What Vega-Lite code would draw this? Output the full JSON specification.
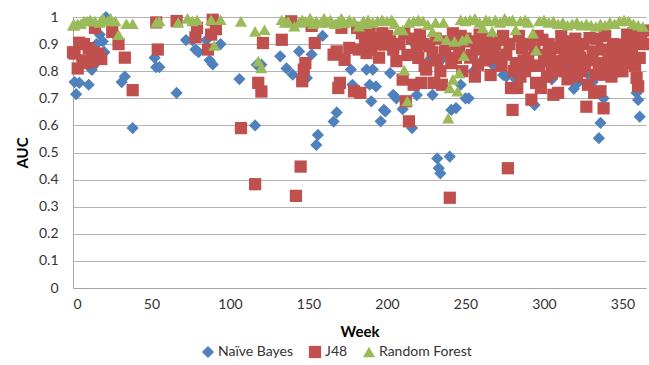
{
  "$schema": "https://vega.github.io/schema/vega-lite/v6.json",
  "width": 573,
  "height": 271,
  "autosize": {"type": "none"},
  "padding": {"left": 73, "top": 17, "right": 3, "bottom": 77},
  "background": "white",
  "config": {
    "font": "Lato",
    "view": {"stroke": null},
    "axis": {"labelColor": "#333333", "titleColor": "#000000", "labelFont": "Lato", "titleFont": "Lato"}
  },
  "data": {"values": [
    {"w":1,"a":0.76,"m":"Naïve Bayes"},{"w":2,"a":0.715,"m":"Naïve Bayes"},{"w":4,"a":0.757,"m":"Naïve Bayes"},{"w":10,"a":0.75,"m":"Naïve Bayes"},{"w":12,"a":0.805,"m":"Naïve Bayes"},{"w":13,"a":0.82,"m":"Naïve Bayes"},{"w":15,"a":0.9,"m":"Naïve Bayes"},{"w":17,"a":0.935,"m":"Naïve Bayes"},{"w":19,"a":0.91,"m":"Naïve Bayes"},{"w":20,"a":0.87,"m":"Naïve Bayes"},{"w":21,"a":1.0,"m":"Naïve Bayes"},{"w":31,"a":0.76,"m":"Naïve Bayes"},{"w":33,"a":0.78,"m":"Naïve Bayes"},{"w":38,"a":0.59,"m":"Naïve Bayes"},{"w":52,"a":0.85,"m":"Naïve Bayes"},{"w":53,"a":0.815,"m":"Naïve Bayes"},{"w":55,"a":0.815,"m":"Naïve Bayes"},{"w":66,"a":0.72,"m":"Naïve Bayes"},{"w":72,"a":0.915,"m":"Naïve Bayes"},{"w":76,"a":0.915,"m":"Naïve Bayes"},{"w":78,"a":0.88,"m":"Naïve Bayes"},{"w":80,"a":0.87,"m":"Naïve Bayes"},{"w":85,"a":0.915,"m":"Naïve Bayes"},{"w":87,"a":0.84,"m":"Naïve Bayes"},{"w":89,"a":0.825,"m":"Naïve Bayes"},{"w":94,"a":0.9,"m":"Naïve Bayes"},{"w":106,"a":0.771,"m":"Naïve Bayes"},{"w":116,"a":0.6,"m":"Naïve Bayes"},{"w":117,"a":0.824,"m":"Naïve Bayes"},{"w":120,"a":0.824,"m":"Naïve Bayes"},{"w":132,"a":0.855,"m":"Naïve Bayes"},{"w":136,"a":0.81,"m":"Naïve Bayes"},{"w":140,"a":0.787,"m":"Naïve Bayes"},{"w":144,"a":0.873,"m":"Naïve Bayes"},{"w":149,"a":0.775,"m":"Naïve Bayes"},{"w":152,"a":0.862,"m":"Naïve Bayes"},{"w":155,"a":0.528,"m":"Naïve Bayes"},{"w":156,"a":0.565,"m":"Naïve Bayes"},{"w":159,"a":0.93,"m":"Naïve Bayes"},{"w":166,"a":0.614,"m":"Naïve Bayes"},{"w":168,"a":0.648,"m":"Naïve Bayes"},{"w":177,"a":0.806,"m":"Naïve Bayes"},{"w":178,"a":0.75,"m":"Naïve Bayes"},{"w":187,"a":0.806,"m":"Naïve Bayes"},{"w":189,"a":0.75,"m":"Naïve Bayes"},{"w":190,"a":0.689,"m":"Naïve Bayes"},{"w":191,"a":0.806,"m":"Naïve Bayes"},{"w":193,"a":0.744,"m":"Naïve Bayes"},{"w":196,"a":0.615,"m":"Naïve Bayes"},{"w":198,"a":0.657,"m":"Naïve Bayes"},{"w":199,"a":0.652,"m":"Naïve Bayes"},{"w":202,"a":0.793,"m":"Naïve Bayes"},{"w":204,"a":0.713,"m":"Naïve Bayes"},{"w":206,"a":0.7,"m":"Naïve Bayes"},{"w":210,"a":0.66,"m":"Naïve Bayes"},{"w":216,"a":0.59,"m":"Naïve Bayes"},{"w":217,"a":0.903,"m":"Naïve Bayes"},{"w":218,"a":0.91,"m":"Naïve Bayes"},{"w":219,"a":0.712,"m":"Naïve Bayes"},{"w":226,"a":0.835,"m":"Naïve Bayes"},{"w":228,"a":0.837,"m":"Naïve Bayes"},{"w":229,"a":0.713,"m":"Naïve Bayes"},{"w":232,"a":0.478,"m":"Naïve Bayes"},{"w":233,"a":0.442,"m":"Naïve Bayes"},{"w":234,"a":0.423,"m":"Naïve Bayes"},{"w":235,"a":0.845,"m":"Naïve Bayes"},{"w":240,"a":0.485,"m":"Naïve Bayes"},{"w":241,"a":0.657,"m":"Naïve Bayes"},{"w":244,"a":0.664,"m":"Naïve Bayes"},{"w":247,"a":0.75,"m":"Naïve Bayes"},{"w":250,"a":0.7,"m":"Naïve Bayes"},{"w":252,"a":0.7,"m":"Naïve Bayes"},{"w":255,"a":0.8,"m":"Naïve Bayes"},{"w":262,"a":0.85,"m":"Naïve Bayes"},{"w":268,"a":0.82,"m":"Naïve Bayes"},{"w":274,"a":0.786,"m":"Naïve Bayes"},{"w":276,"a":0.78,"m":"Naïve Bayes"},{"w":282,"a":0.77,"m":"Naïve Bayes"},{"w":288,"a":0.8,"m":"Naïve Bayes"},{"w":294,"a":0.675,"m":"Naïve Bayes"},{"w":300,"a":0.77,"m":"Naïve Bayes"},{"w":305,"a":0.77,"m":"Naïve Bayes"},{"w":310,"a":0.8,"m":"Naïve Bayes"},{"w":315,"a":0.82,"m":"Naïve Bayes"},{"w":319,"a":0.735,"m":"Naïve Bayes"},{"w":322,"a":0.76,"m":"Naïve Bayes"},{"w":328,"a":0.79,"m":"Naïve Bayes"},{"w":331,"a":0.76,"m":"Naïve Bayes"},{"w":335,"a":0.553,"m":"Naïve Bayes"},{"w":336,"a":0.609,"m":"Naïve Bayes"},{"w":338,"a":0.7,"m":"Naïve Bayes"},{"w":342,"a":0.8,"m":"Naïve Bayes"},{"w":348,"a":0.85,"m":"Naïve Bayes"},{"w":352,"a":0.87,"m":"Naïve Bayes"},{"w":357,"a":0.825,"m":"Naïve Bayes"},{"w":358,"a":0.9,"m":"Naïve Bayes"},{"w":359,"a":0.72,"m":"Naïve Bayes"},{"w":360,"a":0.694,"m":"Naïve Bayes"},{"w":361,"a":0.632,"m":"Naïve Bayes"},

    {"w":0,"a":0.87,"m":"J48"},{"w":1,"a":0.865,"m":"J48"},{"w":3,"a":0.81,"m":"J48"},{"w":4,"a":0.905,"m":"J48"},{"w":6,"a":0.84,"m":"J48"},{"w":7,"a":0.9,"m":"J48"},{"w":8,"a":0.83,"m":"J48"},{"w":10,"a":0.885,"m":"J48"},{"w":12,"a":0.835,"m":"J48"},{"w":13,"a":0.87,"m":"J48"},{"w":14,"a":0.96,"m":"J48"},{"w":16,"a":0.865,"m":"J48"},{"w":18,"a":0.845,"m":"J48"},{"w":25,"a":0.945,"m":"J48"},{"w":29,"a":0.9,"m":"J48"},{"w":33,"a":0.85,"m":"J48"},{"w":38,"a":0.73,"m":"J48"},{"w":53,"a":0.98,"m":"J48"},{"w":54,"a":0.88,"m":"J48"},{"w":66,"a":0.985,"m":"J48"},{"w":78,"a":0.925,"m":"J48"},{"w":79,"a":0.96,"m":"J48"},{"w":86,"a":0.88,"m":"J48"},{"w":88,"a":0.935,"m":"J48"},{"w":89,"a":0.99,"m":"J48"},{"w":91,"a":0.955,"m":"J48"},{"w":107,"a":0.59,"m":"J48"},{"w":116,"a":0.383,"m":"J48"},{"w":118,"a":0.757,"m":"J48"},{"w":120,"a":0.725,"m":"J48"},{"w":121,"a":0.904,"m":"J48"},{"w":133,"a":0.916,"m":"J48"},{"w":139,"a":0.984,"m":"J48"},{"w":142,"a":0.34,"m":"J48"},{"w":145,"a":0.448,"m":"J48"},{"w":146,"a":0.763,"m":"J48"},{"w":147,"a":0.806,"m":"J48"},{"w":148,"a":0.83,"m":"J48"},{"w":152,"a":0.967,"m":"J48"},{"w":154,"a":0.904,"m":"J48"},{"w":166,"a":0.861,"m":"J48"},{"w":168,"a":0.873,"m":"J48"},{"w":169,"a":0.738,"m":"J48"},{"w":170,"a":0.757,"m":"J48"},{"w":171,"a":0.96,"m":"J48"},{"w":173,"a":0.842,"m":"J48"},{"w":176,"a":0.886,"m":"J48"},{"w":179,"a":0.726,"m":"J48"},{"w":181,"a":0.96,"m":"J48"},{"w":182,"a":0.88,"m":"J48"},{"w":183,"a":0.72,"m":"J48"},{"w":184,"a":0.94,"m":"J48"},{"w":186,"a":0.91,"m":"J48"},{"w":187,"a":0.867,"m":"J48"},{"w":189,"a":0.95,"m":"J48"},{"w":190,"a":0.88,"m":"J48"},{"w":192,"a":0.9,"m":"J48"},{"w":193,"a":0.922,"m":"J48"},{"w":195,"a":0.85,"m":"J48"},{"w":197,"a":0.94,"m":"J48"},{"w":198,"a":0.898,"m":"J48"},{"w":200,"a":0.93,"m":"J48"},{"w":202,"a":0.91,"m":"J48"},{"w":204,"a":0.88,"m":"J48"},{"w":206,"a":0.837,"m":"J48"},{"w":208,"a":0.9,"m":"J48"},{"w":210,"a":0.769,"m":"J48"},{"w":211,"a":0.94,"m":"J48"},{"w":212,"a":0.689,"m":"J48"},{"w":213,"a":0.86,"m":"J48"},{"w":214,"a":0.615,"m":"J48"},{"w":216,"a":0.92,"m":"J48"},{"w":217,"a":0.75,"m":"J48"},{"w":219,"a":0.88,"m":"J48"},{"w":220,"a":0.849,"m":"J48"},{"w":221,"a":0.935,"m":"J48"},{"w":222,"a":0.757,"m":"J48"},{"w":223,"a":0.9,"m":"J48"},{"w":224,"a":0.82,"m":"J48"},{"w":225,"a":0.806,"m":"J48"},{"w":227,"a":0.892,"m":"J48"},{"w":229,"a":0.87,"m":"J48"},{"w":230,"a":0.757,"m":"J48"},{"w":231,"a":0.92,"m":"J48"},{"w":232,"a":0.84,"m":"J48"},{"w":234,"a":0.8,"m":"J48"},{"w":235,"a":0.75,"m":"J48"},{"w":237,"a":0.873,"m":"J48"},{"w":238,"a":0.91,"m":"J48"},{"w":240,"a":0.333,"m":"J48"},{"w":241,"a":0.83,"m":"J48"},{"w":242,"a":0.94,"m":"J48"},{"w":243,"a":0.9,"m":"J48"},{"w":244,"a":0.849,"m":"J48"},{"w":246,"a":0.873,"m":"J48"},{"w":247,"a":0.93,"m":"J48"},{"w":248,"a":0.8,"m":"J48"},{"w":250,"a":0.92,"m":"J48"},{"w":252,"a":0.91,"m":"J48"},{"w":253,"a":0.85,"m":"J48"},{"w":254,"a":0.86,"m":"J48"},{"w":256,"a":0.78,"m":"J48"},{"w":257,"a":0.9,"m":"J48"},{"w":258,"a":0.824,"m":"J48"},{"w":259,"a":0.935,"m":"J48"},{"w":261,"a":0.88,"m":"J48"},{"w":263,"a":0.84,"m":"J48"},{"w":264,"a":0.92,"m":"J48"},{"w":265,"a":0.892,"m":"J48"},{"w":266,"a":0.786,"m":"J48"},{"w":268,"a":0.87,"m":"J48"},{"w":269,"a":0.9,"m":"J48"},{"w":270,"a":0.85,"m":"J48"},{"w":272,"a":0.916,"m":"J48"},{"w":273,"a":0.82,"m":"J48"},{"w":274,"a":0.93,"m":"J48"},{"w":276,"a":0.861,"m":"J48"},{"w":277,"a":0.442,"m":"J48"},{"w":278,"a":0.9,"m":"J48"},{"w":279,"a":0.738,"m":"J48"},{"w":280,"a":0.657,"m":"J48"},{"w":281,"a":0.8,"m":"J48"},{"w":282,"a":0.83,"m":"J48"},{"w":283,"a":0.738,"m":"J48"},{"w":284,"a":0.93,"m":"J48"},{"w":285,"a":0.78,"m":"J48"},{"w":286,"a":0.886,"m":"J48"},{"w":287,"a":0.84,"m":"J48"},{"w":288,"a":0.8,"m":"J48"},{"w":290,"a":0.849,"m":"J48"},{"w":291,"a":0.9,"m":"J48"},{"w":292,"a":0.695,"m":"J48"},{"w":293,"a":0.82,"m":"J48"},{"w":294,"a":0.88,"m":"J48"},{"w":295,"a":0.757,"m":"J48"},{"w":296,"a":0.93,"m":"J48"},{"w":297,"a":0.82,"m":"J48"},{"w":298,"a":0.738,"m":"J48"},{"w":299,"a":0.916,"m":"J48"},{"w":300,"a":0.86,"m":"J48"},{"w":301,"a":0.837,"m":"J48"},{"w":302,"a":0.78,"m":"J48"},{"w":303,"a":0.9,"m":"J48"},{"w":304,"a":0.86,"m":"J48"},{"w":305,"a":0.793,"m":"J48"},{"w":306,"a":0.713,"m":"J48"},{"w":307,"a":0.82,"m":"J48"},{"w":308,"a":0.886,"m":"J48"},{"w":309,"a":0.72,"m":"J48"},{"w":310,"a":0.837,"m":"J48"},{"w":311,"a":0.93,"m":"J48"},{"w":312,"a":0.8,"m":"J48"},{"w":313,"a":0.87,"m":"J48"},{"w":314,"a":0.91,"m":"J48"},{"w":315,"a":0.77,"m":"J48"},{"w":316,"a":0.849,"m":"J48"},{"w":317,"a":0.8,"m":"J48"},{"w":318,"a":0.88,"m":"J48"},{"w":319,"a":0.83,"m":"J48"},{"w":320,"a":0.92,"m":"J48"},{"w":321,"a":0.781,"m":"J48"},{"w":322,"a":0.87,"m":"J48"},{"w":323,"a":0.85,"m":"J48"},{"w":324,"a":0.8,"m":"J48"},{"w":325,"a":0.9,"m":"J48"},{"w":326,"a":0.82,"m":"J48"},{"w":327,"a":0.669,"m":"J48"},{"w":328,"a":0.75,"m":"J48"},{"w":329,"a":0.922,"m":"J48"},{"w":330,"a":0.84,"m":"J48"},{"w":331,"a":0.873,"m":"J48"},{"w":332,"a":0.72,"m":"J48"},{"w":333,"a":0.787,"m":"J48"},{"w":334,"a":0.92,"m":"J48"},{"w":335,"a":0.83,"m":"J48"},{"w":336,"a":0.726,"m":"J48"},{"w":337,"a":0.88,"m":"J48"},{"w":338,"a":0.663,"m":"J48"},{"w":339,"a":0.93,"m":"J48"},{"w":340,"a":0.787,"m":"J48"},{"w":341,"a":0.86,"m":"J48"},{"w":342,"a":0.824,"m":"J48"},{"w":343,"a":0.78,"m":"J48"},{"w":344,"a":0.9,"m":"J48"},{"w":345,"a":0.8,"m":"J48"},{"w":346,"a":0.861,"m":"J48"},{"w":347,"a":0.84,"m":"J48"},{"w":348,"a":0.898,"m":"J48"},{"w":349,"a":0.82,"m":"J48"},{"w":350,"a":0.8,"m":"J48"},{"w":351,"a":0.88,"m":"J48"},{"w":352,"a":0.83,"m":"J48"},{"w":353,"a":0.935,"m":"J48"},{"w":354,"a":0.86,"m":"J48"},{"w":355,"a":0.916,"m":"J48"},{"w":356,"a":0.886,"m":"J48"},{"w":357,"a":0.94,"m":"J48"},{"w":358,"a":0.82,"m":"J48"},{"w":359,"a":0.775,"m":"J48"},{"w":360,"a":0.744,"m":"J48"},{"w":361,"a":0.849,"m":"J48"},{"w":362,"a":0.935,"m":"J48"},{"w":363,"a":0.9,"m":"J48"},{"w":364,"a":0.95,"m":"J48"},

    {"w":0,"a":0.97,"m":"Random Forest"},{"w":1,"a":0.97,"m":"Random Forest"},{"w":3,"a":0.975,"m":"Random Forest"},{"w":5,"a":0.975,"m":"Random Forest"},{"w":7,"a":0.985,"m":"Random Forest"},{"w":9,"a":0.985,"m":"Random Forest"},{"w":11,"a":0.99,"m":"Random Forest"},{"w":14,"a":0.985,"m":"Random Forest"},{"w":17,"a":0.98,"m":"Random Forest"},{"w":19,"a":0.995,"m":"Random Forest"},{"w":22,"a":0.985,"m":"Random Forest"},{"w":24,"a":0.995,"m":"Random Forest"},{"w":27,"a":0.985,"m":"Random Forest"},{"w":29,"a":0.935,"m":"Random Forest"},{"w":34,"a":0.975,"m":"Random Forest"},{"w":38,"a":0.975,"m":"Random Forest"},{"w":53,"a":0.98,"m":"Random Forest"},{"w":55,"a":0.985,"m":"Random Forest"},{"w":67,"a":0.98,"m":"Random Forest"},{"w":73,"a":0.995,"m":"Random Forest"},{"w":76,"a":0.985,"m":"Random Forest"},{"w":79,"a":0.99,"m":"Random Forest"},{"w":88,"a":0.99,"m":"Random Forest"},{"w":90,"a":0.895,"m":"Random Forest"},{"w":94,"a":0.99,"m":"Random Forest"},{"w":107,"a":0.984,"m":"Random Forest"},{"w":116,"a":0.947,"m":"Random Forest"},{"w":118,"a":0.837,"m":"Random Forest"},{"w":120,"a":0.812,"m":"Random Forest"},{"w":122,"a":0.953,"m":"Random Forest"},{"w":133,"a":0.99,"m":"Random Forest"},{"w":135,"a":0.98,"m":"Random Forest"},{"w":137,"a":0.984,"m":"Random Forest"},{"w":141,"a":0.966,"m":"Random Forest"},{"w":144,"a":0.98,"m":"Random Forest"},{"w":146,"a":0.99,"m":"Random Forest"},{"w":148,"a":0.984,"m":"Random Forest"},{"w":151,"a":0.996,"m":"Random Forest"},{"w":153,"a":0.975,"m":"Random Forest"},{"w":155,"a":0.985,"m":"Random Forest"},{"w":158,"a":0.98,"m":"Random Forest"},{"w":160,"a":0.996,"m":"Random Forest"},{"w":162,"a":0.98,"m":"Random Forest"},{"w":164,"a":0.99,"m":"Random Forest"},{"w":167,"a":0.975,"m":"Random Forest"},{"w":169,"a":0.984,"m":"Random Forest"},{"w":171,"a":0.995,"m":"Random Forest"},{"w":173,"a":0.978,"m":"Random Forest"},{"w":176,"a":0.99,"m":"Random Forest"},{"w":179,"a":0.984,"m":"Random Forest"},{"w":182,"a":0.966,"m":"Random Forest"},{"w":185,"a":0.985,"m":"Random Forest"},{"w":187,"a":0.975,"m":"Random Forest"},{"w":188,"a":0.99,"m":"Random Forest"},{"w":191,"a":0.98,"m":"Random Forest"},{"w":194,"a":0.985,"m":"Random Forest"},{"w":197,"a":0.99,"m":"Random Forest"},{"w":200,"a":0.985,"m":"Random Forest"},{"w":203,"a":0.99,"m":"Random Forest"},{"w":205,"a":0.975,"m":"Random Forest"},{"w":207,"a":0.953,"m":"Random Forest"},{"w":210,"a":0.952,"m":"Random Forest"},{"w":211,"a":0.804,"m":"Random Forest"},{"w":213,"a":0.69,"m":"Random Forest"},{"w":214,"a":0.98,"m":"Random Forest"},{"w":217,"a":0.985,"m":"Random Forest"},{"w":220,"a":0.99,"m":"Random Forest"},{"w":223,"a":0.985,"m":"Random Forest"},{"w":226,"a":0.972,"m":"Random Forest"},{"w":229,"a":0.946,"m":"Random Forest"},{"w":231,"a":0.98,"m":"Random Forest"},{"w":233,"a":0.929,"m":"Random Forest"},{"w":236,"a":0.98,"m":"Random Forest"},{"w":238,"a":0.916,"m":"Random Forest"},{"w":239,"a":0.627,"m":"Random Forest"},{"w":240,"a":0.738,"m":"Random Forest"},{"w":242,"a":0.77,"m":"Random Forest"},{"w":243,"a":0.91,"m":"Random Forest"},{"w":245,"a":0.726,"m":"Random Forest"},{"w":246,"a":0.793,"m":"Random Forest"},{"w":247,"a":0.99,"m":"Random Forest"},{"w":248,"a":0.915,"m":"Random Forest"},{"w":249,"a":0.857,"m":"Random Forest"},{"w":250,"a":0.985,"m":"Random Forest"},{"w":251,"a":0.922,"m":"Random Forest"},{"w":253,"a":0.99,"m":"Random Forest"},{"w":256,"a":0.995,"m":"Random Forest"},{"w":259,"a":0.98,"m":"Random Forest"},{"w":261,"a":0.96,"m":"Random Forest"},{"w":263,"a":0.99,"m":"Random Forest"},{"w":265,"a":0.985,"m":"Random Forest"},{"w":267,"a":0.947,"m":"Random Forest"},{"w":269,"a":0.99,"m":"Random Forest"},{"w":272,"a":0.98,"m":"Random Forest"},{"w":275,"a":0.995,"m":"Random Forest"},{"w":278,"a":0.985,"m":"Random Forest"},{"w":280,"a":0.99,"m":"Random Forest"},{"w":282,"a":0.953,"m":"Random Forest"},{"w":285,"a":0.985,"m":"Random Forest"},{"w":288,"a":0.99,"m":"Random Forest"},{"w":290,"a":0.98,"m":"Random Forest"},{"w":293,"a":0.94,"m":"Random Forest"},{"w":295,"a":0.878,"m":"Random Forest"},{"w":297,"a":0.985,"m":"Random Forest"},{"w":300,"a":0.99,"m":"Random Forest"},{"w":303,"a":0.98,"m":"Random Forest"},{"w":306,"a":0.985,"m":"Random Forest"},{"w":309,"a":0.975,"m":"Random Forest"},{"w":312,"a":0.98,"m":"Random Forest"},{"w":315,"a":0.97,"m":"Random Forest"},{"w":318,"a":0.975,"m":"Random Forest"},{"w":321,"a":0.98,"m":"Random Forest"},{"w":324,"a":0.97,"m":"Random Forest"},{"w":327,"a":0.975,"m":"Random Forest"},{"w":330,"a":0.97,"m":"Random Forest"},{"w":333,"a":0.965,"m":"Random Forest"},{"w":336,"a":0.975,"m":"Random Forest"},{"w":339,"a":0.97,"m":"Random Forest"},{"w":342,"a":0.98,"m":"Random Forest"},{"w":345,"a":0.975,"m":"Random Forest"},{"w":348,"a":0.985,"m":"Random Forest"},{"w":351,"a":0.99,"m":"Random Forest"},{"w":354,"a":0.985,"m":"Random Forest"},{"w":357,"a":0.975,"m":"Random Forest"},{"w":360,"a":0.97,"m":"Random Forest"},{"w":363,"a":0.965,"m":"Random Forest"}
  ]},
  "mark": {"type": "point", "filled": true, "opacity": 1},
  "encoding": {
    "x": {
      "field": "w", "type": "quantitative", "title": "Week",
      "scale": {"domain": [0, 365], "nice": false},
      "axis": {"values": [0, 50, 100, 150, 200, 250, 300, 350], "grid": false, "ticks": false, "domainColor": "#A6A6A6", "labelFontSize": 14, "labelPadding": 9, "titleFontSize": 15, "titleFontWeight": "bold", "titlePadding": 13}
    },
    "y": {
      "field": "a", "type": "quantitative", "title": "AUC",
      "scale": {"domain": [0, 1], "nice": false},
      "axis": {"values": [0, 0.1, 0.2, 0.3, 0.4, 0.5, 0.6, 0.7, 0.8, 0.9, 1], "format": ".1~f", "grid": true, "gridColor": "#B3B3B3", "ticks": false, "domainColor": "#A6A6A6", "labelFontSize": 14, "labelPadding": 15, "titleFontSize": 15, "titleFontWeight": "bold", "titlePadding": 8}
    },
    "color": {
      "field": "m", "type": "nominal",
      "scale": {"domain": ["Naïve Bayes", "J48", "Random Forest"], "range": ["#4F81BD", "#C0504D", "#9BBB59"]},
      "legend": {"title": null, "orient": "none", "direction": "horizontal", "legendX": 128, "legendY": 328, "labelFontSize": 14, "labelColor": "#333333", "symbolSize": 100, "columnPadding": 14, "labelOffset": 3}
    },
    "shape": {
      "field": "m", "type": "nominal",
      "scale": {"domain": ["Naïve Bayes", "J48", "Random Forest"], "range": ["diamond", "square", "triangle-up"]}
    },
    "size": {
      "field": "m", "type": "nominal", "legend": null,
      "scale": {"domain": ["Naïve Bayes", "J48", "Random Forest"], "range": [150, 150, 165]}
    }
  }
}
